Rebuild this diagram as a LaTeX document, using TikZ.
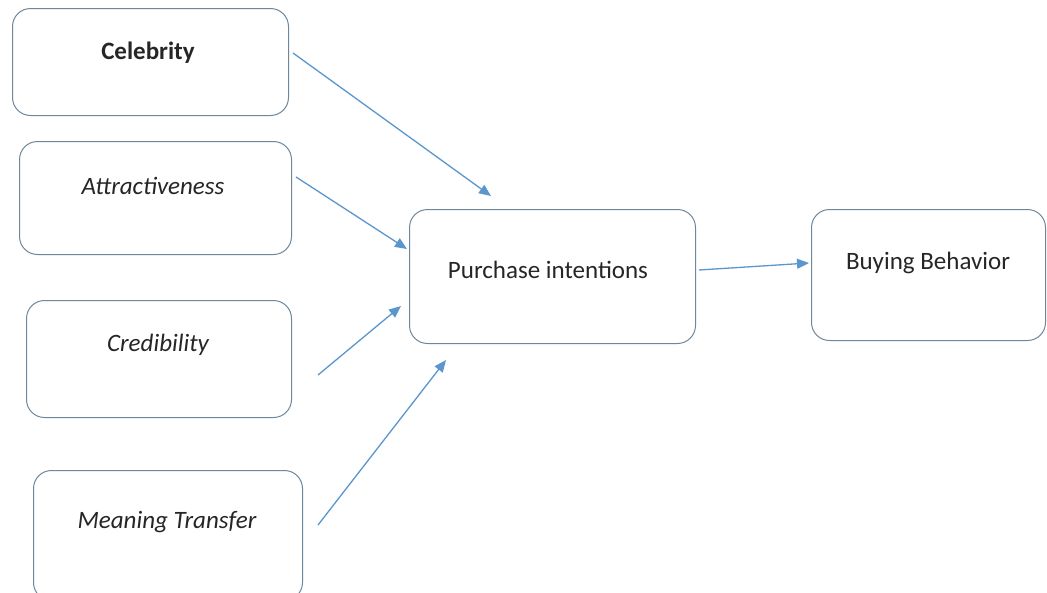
\documentclass[tikz,border=0pt]{standalone}
\usepackage{fontspec}
\setmainfont{Carlito}
\usetikzlibrary{arrows.meta}
\definecolor{boxline}{RGB}{110,135,155}
\definecolor{arrowblue}{RGB}{91,150,205}
\begin{document}
\begin{tikzpicture}[x=1pt,y=-1pt,
  box/.style={draw=boxline,line width=1pt,rounded corners=18pt,inner sep=0pt,anchor=north west},
  lbl/.style={font=\fontsize{25}{30}\selectfont,text=black!85,inner sep=0pt},
  arr/.style={draw=arrowblue,line width=1.3pt,-{Triangle[length=12pt,width=10pt]}}]
\useasboundingbox[fill=white] (0,0) rectangle (1047,592);
% boxes
\node[box,minimum width=276pt,minimum height=107pt] (cel) at (12,8) {};
\node[box,minimum width=272pt,minimum height=113pt] (att) at (19,141) {};
\node[box,minimum width=265pt,minimum height=117pt] (cre) at (26,300) {};
\node[box,minimum width=269pt,minimum height=130pt] (mea) at (33,470) {};
\node[box,minimum width=286pt,minimum height=134pt] (pur) at (409,209) {};
\node[box,minimum width=234pt,minimum height=131pt] (buy) at (811,209) {};
% labels
\node[lbl,font=\fontsize{25}{30}\selectfont\bfseries] (tcel) at (148,53) {Celebrity};
\node[lbl,font=\fontsize{25}{30}\selectfont\itshape] (tatt) at (153,186) {Attractiveness};
\node[lbl,font=\fontsize{25}{30}\selectfont\itshape] (tcre) at (158,345) {Credibility};
\node[lbl,font=\fontsize{25}{30}\selectfont\itshape] (tmea) at (167,522) {Meaning Transfer};
\node[lbl] (tpur) at (548,270) {Purchase intentions};
\node[lbl] (tbuy) at (928,263) {Buying Behavior};
% arrow endpoints
\coordinate (s1) at (293,53);  \coordinate (e1) at (491,196);
\coordinate (s2) at (296,177); \coordinate (e2) at (407,249);
\coordinate (s3) at (318,375); \coordinate (e3) at (401,306);
\coordinate (s4) at (318,525); \coordinate (e4) at (446,360);
\coordinate (s5) at (699,270); \coordinate (e5) at (809,263);
\draw[arr] (s1) -- (e1);
\draw[arr] (s2) -- (e2);
\draw[arr] (s3) -- (e3);
\draw[arr] (s4) -- (e4);
\draw[arr] (s5) -- (e5);
\end{tikzpicture}
\end{document}
